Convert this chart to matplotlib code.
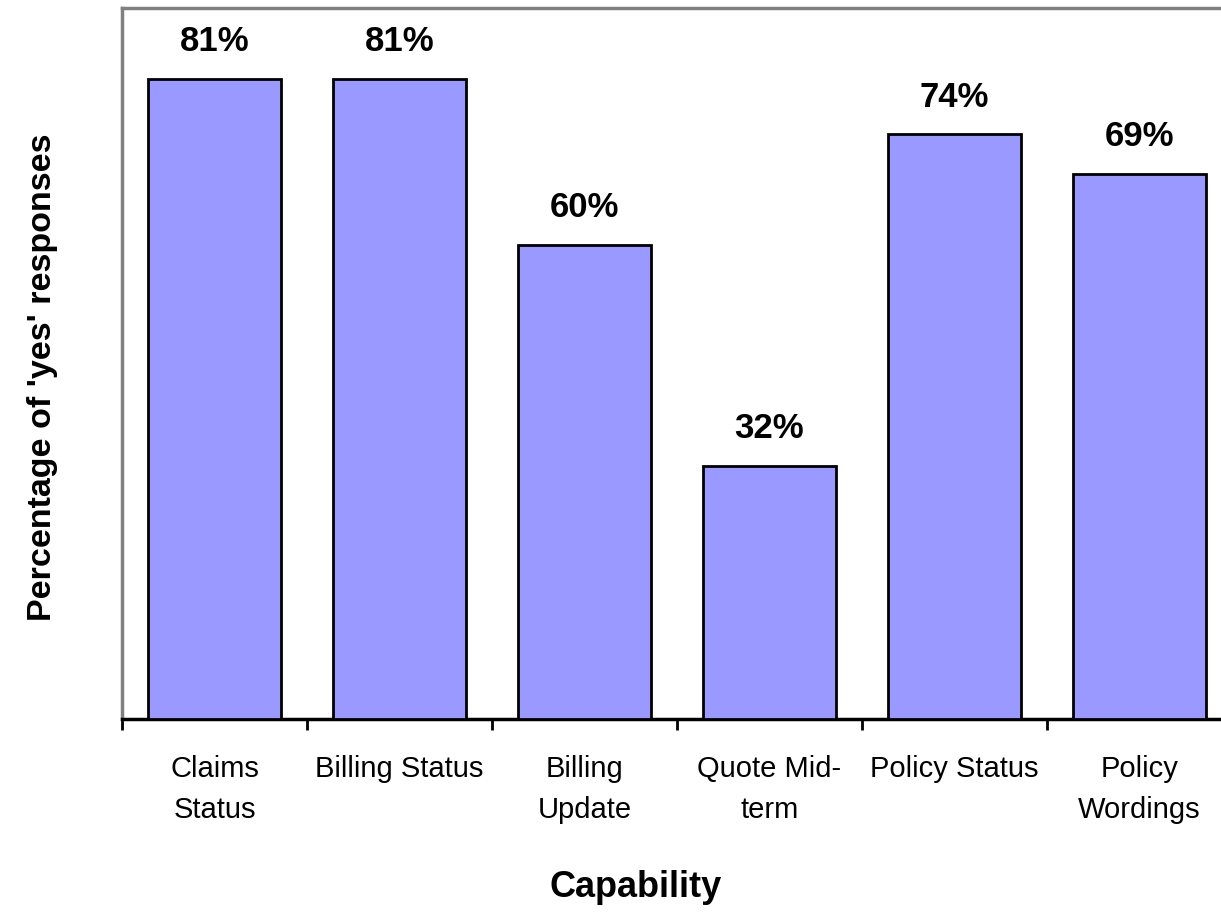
import matplotlib.pyplot as plt
import numpy as np

plt.rcParams['font.family'] = ['Liberation Sans', 'DejaVu Sans']

categories = ['Claims\nStatus', 'Billing Status', 'Billing\nUpdate', 'Quote Mid-\nterm',
              'Policy Status', 'Policy\nWordings']
values = [0.81, 0.81, 0.60, 0.32, 0.74, 0.69]
labels = ['81%', '81%', '60%', '32%', '74%', '69%']

fig = plt.figure(figsize=(12.21, 9.14), dpi=100)
ax = fig.add_axes([0.0999, 0.2133, 0.9091, 0.7779])

x = np.arange(len(values))
ax.bar(x, values, width=0.715, color='#9999FF', edgecolor='black', linewidth=2, zorder=3)

for xi, v, lab in zip(x, values, labels):
    ax.annotate(lab, (xi, v), xytext=(0, 15), textcoords='offset points',
                ha='center', va='bottom', fontsize=25, fontweight='bold')

ax.set_xlim(-0.5, len(values) - 0.5)
ax.set_ylim(0, 0.9)
ax.set_yticks([])

# ticks sit between categories, labels in the middle
ax.set_xticks(np.arange(len(values) + 1) - 0.5)
ax.set_xticklabels([])
ax.set_xticks(x, minor=True)
ax.set_xticklabels(categories, minor=True, fontsize=21, linespacing=1.6)
ax.tick_params(axis='x', which='major', direction='out', length=8, width=2)
ax.tick_params(axis='x', which='minor', length=0, pad=26)

for side in ['left', 'top', 'right']:
    ax.spines[side].set_color('#808080')
    ax.spines[side].set_linewidth(2.5)
ax.spines['bottom'].set_color('black')
ax.spines['bottom'].set_linewidth(2.5)

ax.set_xlabel('Capability', fontsize=26, fontweight='bold')
ax.xaxis.set_label_coords(0.463, -0.212)
ax.set_ylabel("Percentage of 'yes' responses", fontsize=24.5, fontweight='bold')
ax.yaxis.set_label_coords(-0.072, 0.481)
ax.yaxis.label.set_va('center')

fig.savefig('out.png', dpi=100)
